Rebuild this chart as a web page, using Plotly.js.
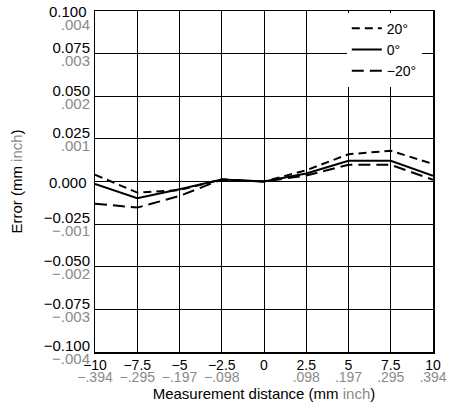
<!DOCTYPE html>
<html>
<head>
<meta charset="utf-8">
<script src="https://cdn.plot.ly/plotly-3.0.1.min.js"></script>
<style>html,body{margin:0;padding:0;background:#fff;}#chart{width:449px;height:410px;}</style>
</head>
<body>
<div id="chart"></div>
<script>
// Data
var distance = [-10, -7.5, -5, -2.5, 0, 2.5, 5, 7.5, 10];
var errPlus20 = [0.004, -0.0065, -0.005, 0.0012, 0, 0.0066, 0.016, 0.018, 0.0103];
var errZero = [-0.0015, -0.0098, -0.0045, 0.0012, 0, 0.0047, 0.0122, 0.0122, 0.0033];
var errMinus20 = [-0.013, -0.0153, -0.0085, 0.0012, 0, 0.0035, 0.0098, 0.0098, 0.001];
var seriesNames = ['20°', '0°', '\u221220°'];

var yTickVals = [0.1, 0.075, 0.05, 0.025, 0, -0.025, -0.05, -0.075, -0.1];
var yTickMm = ['0.100', '0.075', '0.050', '0.025', '0.000', '\u22120.025', '\u22120.050', '\u22120.075', '\u22120.100'];
var yTickInch = ['.004', '.003', '.002', '.001', '', '\u2212.001', '\u2212.002', '\u2212.003', '\u2212.004'];
var xTickVals = [-10, -7.5, -5, -2.5, 0, 2.5, 5, 7.5, 10];
var xTickMm = ['\u221210', '\u22127.5', '\u22125', '\u22122.5', '0', '2.5', '5', '7.5', '10'];
var xTickInch = ['\u2212.394', '\u2212.295', '\u2212.197', '\u2212.098', '', '.098', '.197', '.295', '.394'];

var GRAY = '#8a8a8a';
var FONT = 'Liberation Sans, Arial, Helvetica, sans-serif';
var FS = 15;
var XFS = 14;

// Two-line y labels: mm above the gridline, inch below. The topmost pair and the
// lone 0.000 label are centred on their gridline instead (as in the reference).
var TOP = 0;
function pick(arr, test) { return arr.map(function (t, i) { return test(i) ? t : ''; }); }
var yMmLone = pick(yTickMm, function (i) { return i === TOP || !yTickInch[i]; });
var yMmPaired = pick(yTickMm, function (i) { return i !== TOP && !!yTickInch[i]; });
var yInchInner = pick(yTickInch, function (i) { return i !== TOP; });
var yInchTop = pick(yTickInch, function (i) { return i === TOP; });

var traces = [
  {x: distance, y: errPlus20, name: seriesNames[0], mode: 'lines', line: {color: '#000', width: 2, dash: '8px,5px'}},
  {x: distance, y: errZero, name: seriesNames[1], mode: 'lines', line: {color: '#000', width: 2, dash: 'solid'}},
  {x: distance, y: errMinus20, name: seriesNames[2], mode: 'lines', line: {color: '#000', width: 2, dash: '12px,6px'}},
  {x: [], y: [], xaxis: 'x2', yaxis: 'y2', showlegend: false, hoverinfo: 'skip'},
  {x: [], y: [], xaxis: 'x', yaxis: 'y3', showlegend: false, hoverinfo: 'skip'},
  {x: [], y: [], xaxis: 'x', yaxis: 'y4', showlegend: false, hoverinfo: 'skip'}
];

var axBase = {
  showgrid: true, gridcolor: '#000', gridwidth: 1, zeroline: false,
  showline: true, linecolor: '#000', linewidth: 1.5, mirror: true,
  ticks: '', fixedrange: true, ticklabeloverflow: 'allow'
};
var overlayBase = {ticks: '', showgrid: false, zeroline: false, showline: false, fixedrange: true, tickmode: 'array', ticklabeloverflow: 'allow'};
function yOverlay(text, color, shift) {
  return Object.assign({}, overlayBase, {
    overlaying: 'y', anchor: 'x', side: 'left', range: [-0.1, 0.1],
    tickvals: yTickVals, ticktext: text,
    tickfont: {color: color, size: FS},
    ticklabelstandoff: 4, ticklabelshift: shift
  });
}

var layout = {
  width: 449, height: 410,
  margin: {l: 95, r: 16, t: 11, b: 58},
  paper_bgcolor: '#fff', plot_bgcolor: '#fff',
  font: {family: FONT, size: FS, color: '#000'},
  showlegend: true,
  legend: {
    x: 0.745, xanchor: 'left', y: 0.995, yanchor: 'top',
    bgcolor: '#fff', borderwidth: 0,
    font: {family: FONT, size: 14, color: '#000'},
    tracegroupgap: 0
  },
  xaxis: Object.assign({}, axBase, {
    range: [-10, 10], tickmode: 'array', tickvals: xTickVals, ticktext: xTickMm,
    tickfont: {size: XFS},
    ticklabelstandoff: 0,
    title: {text: 'Measurement distance (mm <span style="color:' + GRAY + '">inch</span>)', font: {size: FS}, standoff: 16}
  }),
  yaxis: Object.assign({}, axBase, {
    range: [-0.1, 0.1], tickmode: 'array', tickvals: yTickVals, ticktext: yMmLone,
    tickfont: {size: FS},
    ticklabelstandoff: 4, ticklabelshift: 1,
    title: {text: 'Error (mm <span style="color:' + GRAY + '">inch</span>)', font: {size: FS}, standoff: 22}
  }),
  xaxis2: Object.assign({}, overlayBase, {
    overlaying: 'x', anchor: 'y', side: 'bottom', range: [-10, 10],
    tickvals: xTickVals, ticktext: xTickInch,
    tickfont: {color: GRAY, size: XFS},
    ticklabelstandoff: 15
  }),
  yaxis2: yOverlay(yMmPaired, '#000', -6),
  yaxis3: yOverlay(yInchInner, GRAY, 7),
  yaxis4: yOverlay(yInchTop, GRAY, 14)
};

Plotly.newPlot('chart', traces, layout, {displayModeBar: false, staticPlot: true});
</script>
</body>
</html>
